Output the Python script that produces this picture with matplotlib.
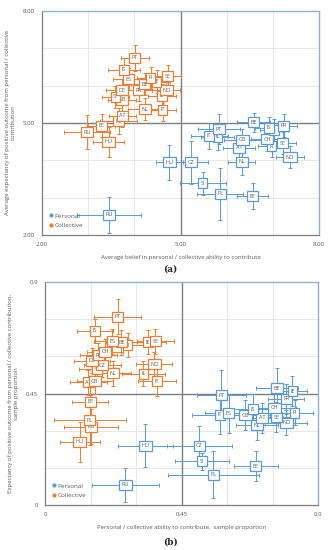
import matplotlib
matplotlib.use("Agg")
import matplotlib.pyplot as plt
from matplotlib.lines import Line2D

# ---------------- Panel (a): averages ----------------
a_pers_lab = ["RU", "HU", "CZ", "SI", "PL", "EE", "NL", "NO", "AT", "FI", "SE", "CH",
              "GB", "IL", "IT", "PT", "IE", "IS", "FR", "BE"]
a_pers_x = [3.45, 4.76, 5.23, 5.48, 5.86, 6.56, 6.32, 7.37, 6.27, 6.97, 7.21, 6.87,
            6.34, 5.80, 5.62, 5.83, 7.02, 6.92, 7.23, 6.58]
a_pers_y = [2.54, 3.94, 3.94, 3.38, 3.10, 3.04, 3.96, 4.08, 4.33, 4.38, 4.46, 4.56,
            4.55, 4.63, 4.66, 4.83, 4.81, 4.87, 4.93, 5.02]
a_pers_xerr = [0.70, 0.30, 0.37, 0.50, 0.50, 0.34, 0.30, 0.30, 0.35, 0.30, 0.30, 0.35,
               0.40, 0.35, 0.40, 0.45, 0.30, 0.30, 0.30, 0.35]
a_pers_yerr = [0.48, 0.46, 0.58, 0.30, 0.70, 0.35, 0.36, 0.30, 0.35, 0.30, 0.30, 0.30,
               0.30, 0.35, 0.35, 0.40, 0.30, 0.30, 0.30, 0.25]

a_coll_lab = ["HU", "RU", "EE", "PL", "AT", "NL", "IT", "GB", "SI", "IL", "DE", "FR",
              "NO", "BE", "IE", "FI", "ES", "SE", "IS", "PT"]
a_coll_x = [3.44, 2.98, 3.29, 3.66, 3.74, 4.22, 4.61, 3.73, 3.59, 4.60, 3.74, 4.09,
            4.69, 4.22, 4.48, 4.35, 3.88, 4.72, 3.78, 4.01]
a_coll_y = [4.49, 4.75, 4.93, 5.05, 5.19, 5.37, 5.35, 5.62, 5.70, 5.73, 5.88, 5.88,
            5.88, 6.04, 6.11, 6.21, 6.17, 6.25, 6.43, 6.75]
a_coll_xerr = [0.34, 0.50, 0.30, 0.40, 0.30, 0.35, 0.30, 0.30, 0.30, 0.30, 0.35, 0.30,
               0.30, 0.30, 0.30, 0.30, 0.35, 0.30, 0.35, 0.30]
a_coll_yerr = [0.40, 0.45, 0.30, 0.35, 0.30, 0.30, 0.30, 0.30, 0.30, 0.30, 0.30, 0.30,
               0.30, 0.30, 0.30, 0.30, 0.30, 0.30, 0.30, 0.35]

# ---------------- Panel (b): sample proportions ----------------
b_pers_lab = ["RU", "HU", "CZ", "SI", "PL", "EE", "NL", "NO", "AT", "SE", "GB", "IT",
              "ES", "FI", "IS", "CH", "PT", "FR", "IE", "BE"]
b_pers_x = [0.265, 0.331, 0.509, 0.518, 0.555, 0.695, 0.698, 0.795, 0.715, 0.762, 0.660, 0.576,
            0.606, 0.823, 0.686, 0.756, 0.581, 0.795, 0.815, 0.765]
b_pers_y = [0.081, 0.239, 0.239, 0.176, 0.122, 0.156, 0.322, 0.332, 0.352, 0.354, 0.363, 0.365,
            0.370, 0.373, 0.387, 0.393, 0.444, 0.428, 0.460, 0.472]
b_pers_xerr = [0.110, 0.091, 0.108, 0.089, 0.150, 0.072, 0.070, 0.070, 0.070, 0.065, 0.080, 0.090,
               0.080, 0.060, 0.080, 0.070, 0.080, 0.060, 0.050, 0.070]
b_pers_yerr = [0.068, 0.087, 0.080, 0.035, 0.095, 0.060, 0.060, 0.050, 0.060, 0.060, 0.060, 0.080,
               0.080, 0.050, 0.060, 0.060, 0.100, 0.060, 0.060, 0.080]

b_coll_lab = ["HU", "RU", "PL", "EE", "AT", "GB", "IT", "IL", "NL", "SI", "CZ", "NO",
              "DE", "FR", "CH", "FI", "BE", "ES", "IE", "SE", "IS", "PT"]
b_coll_x = [0.115, 0.152, 0.148, 0.149, 0.143, 0.164, 0.369, 0.324, 0.225, 0.172, 0.189, 0.360,
            0.154, 0.176, 0.198, 0.273, 0.252, 0.221, 0.340, 0.364, 0.164, 0.240]
b_coll_y = [0.255, 0.316, 0.343, 0.416, 0.495, 0.500, 0.500, 0.530, 0.532, 0.548, 0.565, 0.569,
            0.582, 0.604, 0.619, 0.646, 0.657, 0.661, 0.658, 0.661, 0.703, 0.760]
b_coll_xerr = [0.066, 0.090, 0.120, 0.060, 0.060, 0.060, 0.064, 0.070, 0.060, 0.060, 0.060, 0.060,
               0.060, 0.060, 0.060, 0.050, 0.050, 0.060, 0.060, 0.060, 0.060, 0.077]
b_coll_yerr = [0.080, 0.070, 0.100, 0.060, 0.050, 0.050, 0.060, 0.050, 0.050, 0.050, 0.050, 0.050,
               0.050, 0.050, 0.050, 0.050, 0.050, 0.050, 0.050, 0.050, 0.050, 0.070]

BLUE = "#5B9BD5"
ORANGE = "#ED7D31"
TXT = "#595959"
GRID = "#E3E3E3"

plt.rcParams["font.family"] = ["Open Sans", "DejaVu Sans"]

fig = plt.figure(figsize=(3.31, 5.50), dpi=100)
ax_a = fig.add_axes([0.127, 0.573, 0.837, 0.407])
ax_b = fig.add_axes([0.136, 0.082, 0.825, 0.405])


def draw_series(ax, labs, xs, ys, xe, ye, color):
    ax.errorbar(xs, ys, xerr=xe, yerr=ye, fmt="none", ecolor=color, elinewidth=0.7,
                capsize=1.3, capthick=0.7, zorder=3)
    for l, x, y in zip(labs, xs, ys):
        ax.text(x, y, l, ha="center", va="center", fontsize=4.0, color=TXT, zorder=4,
                bbox=dict(boxstyle="square,pad=0.45", fc="white", ec=color, lw=0.9))


def style_axes(ax, lim, major, minor, fmt, mid):
    ax.set_xlim(lim)
    ax.set_ylim(lim)
    ax.set_xticks(major)
    ax.set_yticks(major)
    ax.set_xticklabels([fmt(v) for v in major])
    ax.set_yticklabels([fmt(v) for v in major])
    ax.set_xticks(minor, minor=True)
    ax.set_yticks(minor, minor=True)
    ax.tick_params(which="both", length=0, labelsize=4.4, labelcolor=TXT, pad=5)
    ax.grid(which="both", color=GRID, lw=0.6, zorder=0)
    ax.set_axisbelow(True)
    ax.axvline(mid, color="#7F7F7F", lw=1.0, zorder=1)
    ax.axhline(mid, color="#7F7F7F", lw=1.0, zorder=1)
    for s in ("left", "bottom"):
        ax.spines[s].set_color("#7F7F7F")
        ax.spines[s].set_linewidth(0.9)
    for s in ("top", "right"):
        ax.spines[s].set_color("#8DB3CC")
        ax.spines[s].set_linewidth(1.0)


# Panel (a)
style_axes(ax_a, (2, 8), [2, 5, 8], [3, 4, 6, 7], lambda v: f"{v:.2f}", 5)
draw_series(ax_a, a_coll_lab, a_coll_x, a_coll_y, a_coll_xerr, a_coll_yerr, ORANGE)
draw_series(ax_a, a_pers_lab, a_pers_x, a_pers_y, a_pers_xerr, a_pers_yerr, BLUE)
ax_a.set_xlabel("Average belief in personal / collective ability to contribute",
                fontsize=4.3, color=TXT, labelpad=6)
ax_a.set_ylabel("Average expectancy of positive outcome from personal / collective\ncontribution",
                fontsize=4.3, color=TXT, labelpad=5)

# Panel (b)
style_axes(ax_b, (0, 0.9), [0, 0.45, 0.9], [0.15, 0.3, 0.6, 0.75],
           lambda v: f"{v:g}", 0.45)
draw_series(ax_b, b_coll_lab, b_coll_x, b_coll_y, b_coll_xerr, b_coll_yerr, ORANGE)
draw_series(ax_b, b_pers_lab, b_pers_x, b_pers_y, b_pers_xerr, b_pers_yerr, BLUE)
ax_b.set_xlabel("Personal / collective ability to contribute,  sample proportion",
                fontsize=4.3, color=TXT, labelpad=6)
ax_b.set_ylabel("Expectancy of positive outcome from personal / collective contribution,\nsample proportion",
                fontsize=4.3, color=TXT, labelpad=5)

handles = [Line2D([], [], ls="none", marker="o", ms=2, color=BLUE, label="Personal"),
           Line2D([], [], ls="none", marker="o", ms=2, color=ORANGE, label="Collective")]
for ax in (ax_a, ax_b):
    leg = ax.legend(handles=handles, loc="lower left", frameon=False, fontsize=4.6,
                    handlelength=0.5, handletextpad=0.3, labelspacing=0.6,
                    borderaxespad=0.7)
    for t in leg.get_texts():
        t.set_color(TXT)

fig.text(0.515, 0.510, "(a)", ha="center", va="center", fontsize=6.5,
         fontweight="bold", family="DejaVu Serif", color="#222222")
fig.text(0.515, 0.015, "(b)", ha="center", va="center", fontsize=6.5,
         fontweight="bold", family="DejaVu Serif", color="#222222")

fig.savefig("out.png", dpi=100)
